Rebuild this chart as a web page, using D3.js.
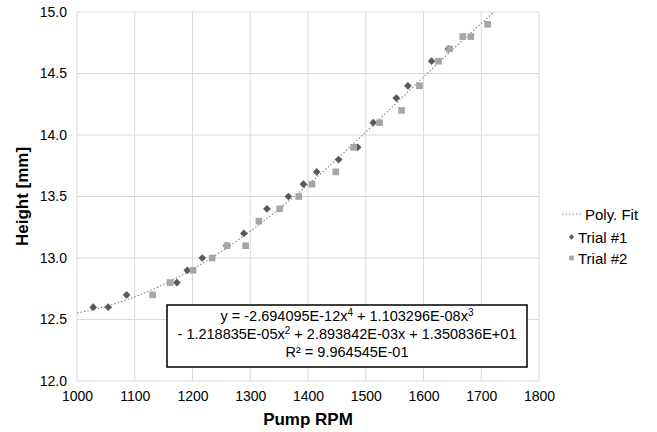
<!DOCTYPE html>
<html>
<head>
<meta charset="utf-8">
<script src="https://cdnjs.cloudflare.com/ajax/libs/d3/7.8.5/d3.min.js"></script>
<style>
  body { margin: 0; background: #fff; }
  text { font-family: "Liberation Sans", Arial, sans-serif; fill: #000; }
  .tick text { font-size: 14px; fill: #000; }
  .axis-title { font-size: 17px; font-weight: bold; }
  .legend text { font-size: 15px; }
  .eq { font-size: 14.5px; }
</style>
</head>
<body>
<div id="chart"></div>
<script>
// Trial #1 (diamonds)
var trial1Rpm = [1028, 1054, 1086, 1173, 1191, 1217, 1259, 1289, 1329, 1366, 1392, 1415, 1453, 1486, 1513, 1553, 1573, 1614, 1643];
var trial1Height = [12.6, 12.6, 12.7, 12.8, 12.9, 13.0, 13.1, 13.2, 13.4, 13.5, 13.6, 13.7, 13.8, 13.9, 14.1, 14.3, 14.4, 14.6, 14.7];
// Trial #2 (squares)
var trial2Rpm = [1131, 1161, 1201, 1234, 1260, 1292, 1315, 1351, 1384, 1407, 1448, 1479, 1524, 1562, 1593, 1626, 1645, 1668, 1682, 1711];
var trial2Height = [12.7, 12.8, 12.9, 13.0, 13.1, 13.1, 13.3, 13.4, 13.5, 13.6, 13.7, 13.9, 14.1, 14.2, 14.4, 14.6, 14.7, 14.8, 14.8, 14.9];
// fit coefficients, x^4 .. x^0 (from the equation box)
var fitCoef = [-2.694095e-12, 1.103296e-08, -1.218835e-05, 2.893842e-03, 1.350836e+01];
var xTicks = [1000, 1100, 1200, 1300, 1400, 1500, 1600, 1700, 1800];
var yTicks = [12.0, 12.5, 13.0, 13.5, 14.0, 14.5, 15.0];

var width = 657, height = 432;
var margin = {left: 77, top: 12, right: 118, bottom: 51};

var svg = d3.select('#chart').append('svg')
  .attr('width', width).attr('height', height);

var x = d3.scaleLinear().domain([1000, 1800]).range([margin.left, width - margin.right]);
var y = d3.scaleLinear().domain([12, 15]).range([height - margin.bottom, margin.top]);

// grid
svg.append('g').selectAll('line').data(xTicks).enter().append('line')
  .attr('x1', d => x(d)).attr('x2', d => x(d))
  .attr('y1', y(12)).attr('y2', y(15))
  .attr('stroke', '#d9d9d9').attr('stroke-width', 1);
svg.append('g').selectAll('line').data(yTicks).enter().append('line')
  .attr('x1', x(1000)).attr('x2', x(1800))
  .attr('y1', d => y(d)).attr('y2', d => y(d))
  .attr('stroke', '#d9d9d9').attr('stroke-width', 1);

// axes (labels only)
var xAxis = svg.append('g')
  .attr('transform', 'translate(0,' + y(12) + ')')
  .call(d3.axisBottom(x).tickValues(xTicks).tickSize(0).tickPadding(10).tickFormat(d3.format('d')));
xAxis.select('.domain').remove();

var yAxis = svg.append('g')
  .attr('transform', 'translate(' + x(1000) + ',0)')
  .call(d3.axisLeft(y).tickValues(yTicks).tickSize(0).tickPadding(10).tickFormat(d3.format('.1f')));
yAxis.select('.domain').remove();

svg.append('text').attr('class', 'axis-title')
  .attr('x', (x(1000) + x(1800)) / 2).attr('y', 425)
  .attr('text-anchor', 'middle').text('Pump RPM');
svg.append('text').attr('class', 'axis-title')
  .attr('transform', 'translate(28,' + ((y(12) + y(15)) / 2) + ') rotate(-90)')
  .attr('text-anchor', 'middle').text('Height [mm]');

// fit line
function fit(r) {
  return fitCoef.reduce(function (acc, c) { return acc * r + c; }, 0);
}
var fitX = d3.range(1000, 1801, 2);
svg.append('clipPath').attr('id', 'plot').append('rect')
  .attr('x', x(1000)).attr('y', y(15))
  .attr('width', x(1800) - x(1000)).attr('height', y(12) - y(15));
svg.append('path')
  .datum(fitX)
  .attr('clip-path', 'url(#plot)')
  .attr('fill', 'none')
  .attr('stroke', '#8c8c8c')
  .attr('stroke-width', 1.2)
  .attr('stroke-dasharray', '1.5,2')
  .attr('d', d3.line().x(d => x(d)).y(d => y(fit(d))));

// markers
var diamond = d3.symbol(d3.symbolSquare, 30);
var square = d3.symbol(d3.symbolSquare, 44);

svg.append('g').selectAll('path').data(d3.range(trial1Rpm.length)).enter().append('path')
  .attr('d', diamond)
  .attr('transform', i => 'translate(' + x(trial1Rpm[i]) + ',' + y(trial1Height[i]) + ') rotate(45)')
  .attr('fill', '#595959');

svg.append('g').selectAll('path').data(d3.range(trial2Rpm.length)).enter().append('path')
  .attr('d', square)
  .attr('transform', i => 'translate(' + x(trial2Rpm[i]) + ',' + y(trial2Height[i]) + ')')
  .attr('fill', '#a6a6a6');

// equation box
var box = svg.append('g');
box.append('rect')
  .attr('x', 167).attr('y', 305).attr('width', 360).attr('height', 62)
  .attr('fill', '#fff').attr('stroke', '#000').attr('stroke-width', 1.5);

var eq1 = box.append('text').attr('class', 'eq').attr('x', 347).attr('y', 321).attr('text-anchor', 'middle');
eq1.append('tspan').text('y = -2.694095E-12x');
eq1.append('tspan').attr('dy', -5).attr('font-size', '10px').text('4');
eq1.append('tspan').attr('dy', 5).text(' + 1.103296E-08x');
eq1.append('tspan').attr('dy', -5).attr('font-size', '10px').text('3');

var eq2 = box.append('text').attr('class', 'eq').attr('x', 347).attr('y', 339).attr('text-anchor', 'middle');
eq2.append('tspan').text('- 1.218835E-05x');
eq2.append('tspan').attr('dy', -5).attr('font-size', '10px').text('2');
eq2.append('tspan').attr('dy', 5).text(' + 2.893842E-03x + 1.350836E+01');

box.append('text').attr('class', 'eq').attr('x', 347).attr('y', 357).attr('text-anchor', 'middle')
  .text('R\u00b2 = 9.964545E-01');

// legend
var legend = svg.append('g').attr('class', 'legend');
legend.append('line')
  .attr('x1', 562).attr('x2', 581).attr('y1', 214).attr('y2', 214)
  .attr('stroke', '#8c8c8c').attr('stroke-width', 1.2).attr('stroke-dasharray', '1.5,2');
legend.append('text').attr('x', 585).attr('y', 219.5).text('Poly. Fit');
legend.append('path').attr('d', d3.symbol(d3.symbolSquare, 14))
  .attr('transform', 'translate(571.5,237) rotate(45)').attr('fill', '#595959');
legend.append('text').attr('x', 578).attr('y', 243).text('Trial #1');
legend.append('path').attr('d', d3.symbol(d3.symbolSquare, 22))
  .attr('transform', 'translate(571.5,258)').attr('fill', '#a6a6a6');
legend.append('text').attr('x', 578).attr('y', 263.5).text('Trial #2');
</script>
</body>
</html>
